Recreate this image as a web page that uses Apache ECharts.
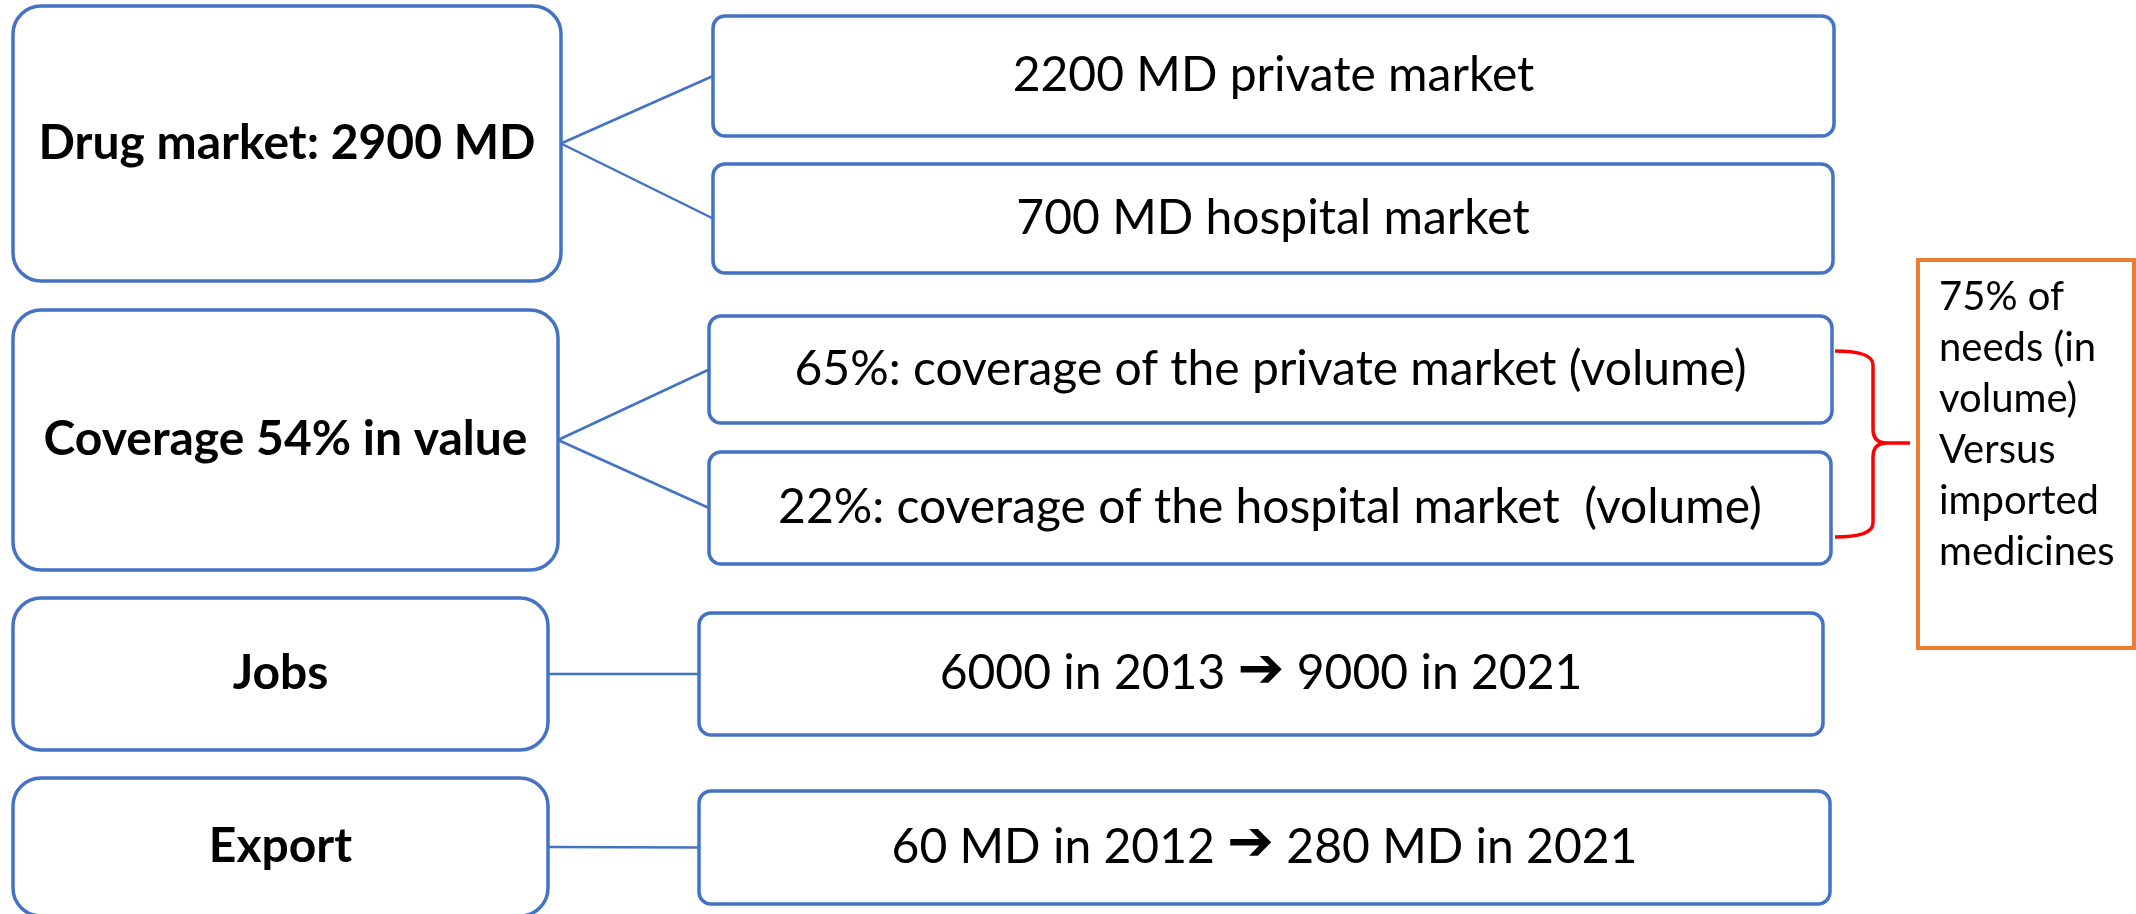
<!DOCTYPE html>
<html><head><meta charset="utf-8">
<script src="https://cdn.jsdelivr.net/npm/echarts@6/dist/echarts.min.js"></script>
<style>html,body{margin:0;padding:0;background:#fff}#c{width:2136px;height:914px}</style>
</head><body><div id="c"></div>
<script>
// ---- content ----
const groupLabels = ['Drug market: 2900 MD', 'Coverage 54% in value', 'Jobs', 'Export'];
const detailLabels = [
  '2200 MD private market',
  '700 MD hospital market',
  '65%: coverage of the private market (volume)',
  '22%: coverage of the hospital market  (volume)',
  '6000 in 2013 \u2794 9000 in 2021',
  '60 MD in 2012 \u2794 280 MD in 2021'
];
const detailGroup = [0, 0, 1, 1, 2, 3];
const noteLines = ['75% of', 'needs (in', 'volume)', 'Versus', 'imported', 'medicines'];

// ---- layout (diagram frame units, 2136 x 914) ----
const groupBoxes = [[13, 6, 561, 281], [13, 310, 558, 570], [13, 598, 548, 750], [13, 778, 548, 916]];
const detailBoxes = [[713, 16, 1834, 136], [713, 164, 1833, 273], [709, 316, 1832, 423], [709, 452, 1831, 564], [699, 613, 1823, 735], [699, 791, 1830, 904]];
const noteBox = [1918, 260, 2134, 648];
const noteTextAt = [1939, 272];
const brace = { x0: 1835, x1: 1873, tip: 1910, y0: 351, yMid: 443, y1: 537, r: 14 };

// ---- styles ----
const BLUE = '#4472C4', ORANGE = '#ED7D31', RED = '#FF0000';
const FONT_BOLD = 'bold 48px Lato';
const FONT_REG = '48px Lato';
const FONT_NOTE = '40px Lato';
const FONT_ARROW = 'bold 56px "DejaVu Sans"';

function rectFrom(api, b) {
  const p0 = api.coord([b[0], b[1]]), p1 = api.coord([b[2], b[3]]);
  return { x: p0[0], y: p0[1], width: p1[0] - p0[0], height: p1[1] - p0[1] };
}
function boxEl(api, b, r, text, font) {
  const s = rectFrom(api, b); s.r = r;
  return {
    type: 'rect', shape: s,
    style: { fill: '#fff', stroke: BLUE, lineWidth: 3.5 },
    textContent: {
      type: 'text',
      style: {
        text: text.replace('\u2794', '{a|\u2794}'), font: font, fill: '#000',
        rich: { a: { font: FONT_ARROW, fill: '#000', padding: [0, 0, 4, 0] } }
      }
    },
    textConfig: { position: 'inside' }
  };
}

const chart = echarts.init(document.getElementById('c'), null, { renderer: 'canvas' });
chart.setOption({
  animation: false,
  backgroundColor: '#fff',
  grid: { left: 0, right: 0, top: 0, bottom: 0 },
  xAxis: { type: 'value', min: 0, max: 2136, show: false },
  yAxis: { type: 'value', min: 0, max: 914, inverse: true, show: false },
  series: [
    { // connectors
      type: 'custom', z: 1,
      data: detailLabels.map((t, i) => [i, detailGroup[i]]),
      renderItem: function (params, api) {
        const i = params.dataIndex, g = groupBoxes[detailGroup[i]], d = detailBoxes[i];
        const a = api.coord([g[2], (g[1] + g[3]) / 2]);
        const b = api.coord([d[0], (d[1] + d[3]) / 2]);
        return { type: 'line', shape: { x1: a[0], y1: a[1], x2: b[0], y2: b[1] }, style: { stroke: BLUE, lineWidth: 2.5 } };
      }
    },
    { // group boxes
      type: 'custom', z: 2,
      data: groupLabels.map((t, i) => [i, 0]),
      renderItem: function (params, api) {
        const i = params.dataIndex;
        return boxEl(api, groupBoxes[i], 28, groupLabels[i], FONT_BOLD);
      }
    },
    { // detail boxes
      type: 'custom', z: 2,
      data: detailLabels.map((t, i) => [i, 1]),
      renderItem: function (params, api) {
        const i = params.dataIndex;
        return boxEl(api, detailBoxes[i], 12, detailLabels[i], FONT_REG);
      }
    },
    { // note box
      type: 'custom', z: 2,
      data: [[0, 2]],
      renderItem: function (params, api) {
        const s = rectFrom(api, noteBox);
        const p = api.coord(noteTextAt);
        return {
          type: 'group', children: [
            { type: 'rect', shape: s, style: { fill: '#fff', stroke: ORANGE, lineWidth: 4 } },
            { type: 'text', style: { text: noteLines.join('\n'), x: p[0], y: p[1], font: FONT_NOTE, fill: '#000', lineHeight: 51, align: 'left', verticalAlign: 'top', textAlign: 'left', textVerticalAlign: 'top' } }
          ]
        };
      }
    },
    { // red brace
      type: 'custom', z: 3,
      data: [[0, 3]],
      renderItem: function (params, api) {
        const c = (x, y) => api.coord([x, y]);
        const B = brace, st = { stroke: RED, lineWidth: 3.5, fill: null };
        const q = (p0, cp, p1) => ({ type: 'bezierCurve', shape: { x1: p0[0], y1: p0[1], cpx1: cp[0], cpy1: cp[1], x2: p1[0], y2: p1[1] }, style: st });
        const l = (p0, p1) => ({ type: 'line', shape: { x1: p0[0], y1: p0[1], x2: p1[0], y2: p1[1] }, style: st });
        const r = B.r;
        return {
          type: 'group', children: [
            q(c(B.x0, B.y0), c(B.x1, B.y0), c(B.x1, B.y0 + r)),
            l(c(B.x1, B.y0 + r), c(B.x1, B.yMid - r)),
            q(c(B.x1, B.yMid - r), c(B.x1, B.yMid), c(B.x1 + r, B.yMid)),
            q(c(B.x1, B.yMid + r), c(B.x1, B.yMid), c(B.x1 + r, B.yMid)),
            l(c(B.x1 + r, B.yMid), c(B.tip, B.yMid)),
            l(c(B.x1, B.yMid + r), c(B.x1, B.y1 - r)),
            q(c(B.x1, B.y1 - r), c(B.x1, B.y1), c(B.x0, B.y1))
          ]
        };
      }
    }
  ]
});
</script></body></html>
